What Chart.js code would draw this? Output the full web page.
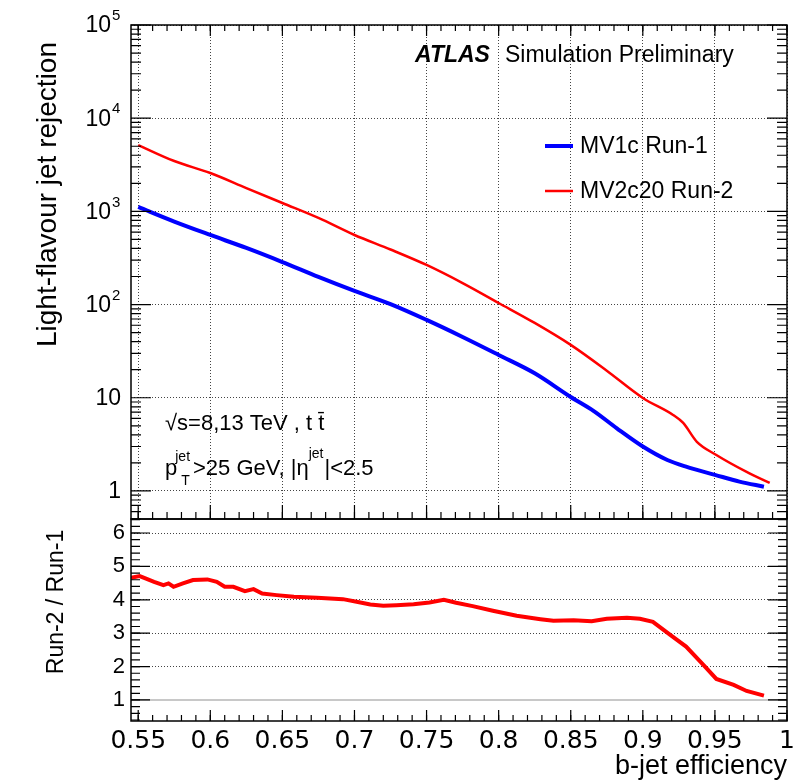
<!DOCTYPE html>
<html>
<head>
<meta charset="utf-8">
<script src="https://cdn.jsdelivr.net/npm/chart.js@4.4.1/dist/chart.umd.min.js"></script>
<style>
  body { margin: 0; background: #fff; }
  #contenedor { position: relative; width: 805px; height: 783px; background: #fff; }
  canvas { position: absolute; left: 0; }
  #graficoSuperior { top: 0; }
  #graficoRatio { top: 516px; }
</style>
</head>
<body>
<div id="contenedor">
  <canvas id="graficoRatio" width="805" height="267"></canvas>
  <canvas id="graficoSuperior" width="805" height="522"></canvas>
</div>
<script>
// Datos (eficiencia b-jet vs rechazo de jets ligeros)
const eficienciaRun1 = [0.55, 0.575, 0.6, 0.625, 0.65, 0.675, 0.7, 0.725, 0.75, 0.775, 0.8, 0.825, 0.85, 0.866, 0.882, 0.9, 0.917, 0.93, 0.95, 0.967, 0.984];
const rechazoRun1 = [1115, 777, 558, 405, 286, 198, 140, 101, 68.4, 44.9, 28.8, 18.3, 10.2, 7.2, 4.7, 3.0, 2.15, 1.82, 1.49, 1.26, 1.11];

const eficienciaRun2 = [0.55, 0.575, 0.6, 0.625, 0.65, 0.675, 0.7, 0.725, 0.75, 0.775, 0.8, 0.825, 0.85, 0.875, 0.9, 0.921, 0.928, 0.9375, 0.951, 0.972, 0.988];
const rechazoRun2 = [5150, 3470, 2580, 1780, 1230, 850, 558, 390, 266, 170, 104, 63.5, 36.9, 19.5, 9.95, 6.54, 5.37, 3.36, 2.43, 1.6, 1.22];

// Cociente Run-2 / Run-1 (panel inferior)
const eficienciaRatio = [0.545, 0.551, 0.555, 0.561, 0.5675, 0.571, 0.5745, 0.581, 0.588, 0.598, 0.6045, 0.61, 0.616, 0.624, 0.63, 0.636, 0.646, 0.658, 0.674, 0.692, 0.7015, 0.711, 0.72, 0.729, 0.741, 0.752, 0.762, 0.7705, 0.782, 0.796, 0.8125, 0.829, 0.838, 0.852, 0.8645, 0.875, 0.889, 0.898, 0.907, 0.919, 0.93, 0.942, 0.951, 0.963, 0.972, 0.984];
const ratioRun2Run1 = [4.66, 4.71, 4.64, 4.54, 4.44, 4.49, 4.39, 4.49, 4.59, 4.61, 4.54, 4.39, 4.39, 4.26, 4.32, 4.19, 4.14, 4.09, 4.06, 4.02, 3.94, 3.86, 3.82, 3.84, 3.87, 3.92, 4.0, 3.91, 3.81, 3.67, 3.52, 3.42, 3.37, 3.39, 3.36, 3.43, 3.46, 3.43, 3.34, 2.95, 2.6, 2.05, 1.63, 1.45, 1.27, 1.13];

const nombresSeries = ['MV1c Run-1', 'MV2c20 Run-2'];
const coloresSeries = ['#0000ff', '#ff0000'];

// Etiquetas del eje logarítmico: base y exponente
const ticksRechazo = [1, 10, 100, 1000, 10000, 100000];
const basesRechazo = ['1', '10', '10', '10', '10', '10'];
const exponentesRechazo = ['', '', '2', '3', '4', '5'];

const FUENTE = "'Liberation Sans', Arial, sans-serif";
Chart.defaults.font.family = FUENTE;
Chart.defaults.color = '#000';

function aPuntos(xs, ys) {
    return xs.map((x, i) => ({ x: x, y: ys[i] }));
}

function esDecada(v) {
    const l = Math.log10(v);
    return Math.abs(l - Math.round(l)) < 1e-6;
}

function esEntero(v) {
    return Math.abs(v - Math.round(v)) < 1e-6;
}

// Ajuste fijo del tamaño del eje, sin relleno automático
function fijarEje(ancho, alto) {
    return s => {
        if (ancho !== null) s.width = ancho;
        if (alto !== null) s.height = alto;
        s.paddingTop = 0;
        s.paddingBottom = 0;
        s.paddingLeft = 0;
        s.paddingRight = 0;
    };
}

// Marcas menores del eje x cada 0.01
const menoresX = [];
for (let i = 0; i <= 45; i++) menoresX.push(0.55 + i * 0.01);

// Marcas interiores al estilo ROOT
function marcas(ctx, area, escala, valores, largo, lado) {
    ctx.beginPath();
    valores.forEach(v => {
        const p = escala.getPixelForValue(v);
        if (lado === 'left' || lado === 'right') {
            if (p < area.top - 0.5 || p > area.bottom + 0.5) return;
            const x0 = lado === 'left' ? area.left : area.right;
            const x1 = lado === 'left' ? area.left + largo : area.right - largo;
            ctx.moveTo(x0, p);
            ctx.lineTo(x1, p);
        } else {
            if (p < area.left - 0.5 || p > area.right + 0.5) return;
            const y0 = lado === 'top' ? area.top : area.bottom;
            const y1 = lado === 'top' ? area.top + largo : area.bottom - largo;
            ctx.moveTo(p, y0);
            ctx.lineTo(p, y1);
        }
    });
    ctx.stroke();
}

// Marco, marcas, textos y leyenda del panel superior
const marcoSuperior = {
    id: 'marcoSuperior',
    afterDraw(chart) {
        const ctx = chart.ctx;
        const a = chart.chartArea;
        const sx = chart.scales.x;
        const sy = chart.scales.y;
        ctx.save();
        ctx.strokeStyle = '#000';
        ctx.lineWidth = 1.5;
        ctx.strokeRect(a.left, a.top, a.right - a.left, a.bottom - a.top);

        ctx.lineWidth = 1.2;
        const valoresY = sy.ticks.map(t => t.value);
        const decadas = valoresY.filter(esDecada);
        const menoresY = valoresY.filter(v => !esDecada(v) && esEntero(v / Math.pow(10, Math.floor(Math.log10(v) + 1e-9))));
        marcas(ctx, a, sy, decadas, 20, 'left');
        marcas(ctx, a, sy, menoresY, 10, 'left');
        marcas(ctx, a, sy, decadas, 20, 'right');
        marcas(ctx, a, sy, menoresY, 10, 'right');
        const mayoresX = sx.ticks.map(t => t.value);
        marcas(ctx, a, sx, mayoresX, 11, 'top');
        marcas(ctx, a, sx, menoresX, 6, 'top');
        marcas(ctx, a, sx, mayoresX, 14, 'bottom');
        marcas(ctx, a, sx, menoresX, 7, 'bottom');

        // Etiquetas del eje y con exponente
        ctx.fillStyle = '#000';
        ctx.textBaseline = 'middle';
        ticksRechazo.forEach((t, i) => {
            const y = sy.getPixelForValue(t);
            if (exponentesRechazo[i]) {
                ctx.textAlign = 'right';
                ctx.font = '23px ' + FUENTE;
                ctx.fillText(basesRechazo[i], a.left - 20, y + 1);
                ctx.textAlign = 'left';
                ctx.font = '15px ' + FUENTE;
                ctx.fillText(exponentesRechazo[i], a.left - 19, y - 9);
            } else {
                ctx.textAlign = 'right';
                ctx.font = '23px ' + FUENTE;
                ctx.fillText(basesRechazo[i], a.left - 10, y + 1);
            }
        });
        ctx.textAlign = 'left';

        // Texto ATLAS
        ctx.textBaseline = 'alphabetic';
        ctx.font = 'italic bold 23px ' + FUENTE;
        ctx.fillText('ATLAS', 415, 62);
        ctx.font = '23px ' + FUENTE;
        ctx.fillText('Simulation Preliminary', 505, 62);

        // Leyenda
        chart.data.datasets.forEach((ds, i) => {
            const y = 146 + i * 45;
            ctx.strokeStyle = ds.borderColor;
            ctx.lineWidth = ds.borderWidth;
            ctx.beginPath();
            ctx.moveTo(545, y);
            ctx.lineTo(573, y);
            ctx.stroke();
            ctx.textBaseline = 'middle';
            ctx.font = '23px ' + FUENTE;
            ctx.fillText(ds.label, 580, y + 1);
        });

        // Condiciones de la simulación
        ctx.textBaseline = 'alphabetic';
        ctx.font = '22px ' + FUENTE;
        ctx.fillText('√s=8,13 TeV , t t̄', 165, 430);
        let x = 165;
        const yb = 475;
        ctx.fillText('p', x, yb);
        x += ctx.measureText('p').width;
        ctx.font = '14px ' + FUENTE;
        ctx.fillText('jet', x - 2, yb - 14);
        ctx.fillText('T', x + 4, yb + 10);
        x += ctx.measureText('jet').width + 1;
        ctx.font = '22px ' + FUENTE;
        ctx.fillText('>25 GeV, |η', x, yb);
        x += ctx.measureText('>25 GeV, |η').width;
        ctx.font = '14px ' + FUENTE;
        ctx.fillText('jet', x, yb - 17);
        x += ctx.measureText('jet').width + 1;
        ctx.font = '22px ' + FUENTE;
        ctx.fillText('|<2.5', x, yb);

        // Título del eje y
        ctx.translate(48, 42);
        ctx.rotate(-Math.PI / 2);
        ctx.textAlign = 'right';
        ctx.textBaseline = 'middle';
        ctx.font = '28px ' + FUENTE;
        ctx.fillText('Light-flavour jet rejection', 0, 0);
        ctx.restore();
    }
};

// Marco, línea de referencia y títulos del panel de cociente
const marcoRatio = {
    id: 'marcoRatio',
    beforeDatasetsDraw(chart) {
        const ctx = chart.ctx;
        const a = chart.chartArea;
        const y1 = chart.scales.y.getPixelForValue(1);
        ctx.save();
        ctx.strokeStyle = '#c8c8c8';
        ctx.lineWidth = 2;
        ctx.beginPath();
        ctx.moveTo(a.left, y1);
        ctx.lineTo(a.right, y1);
        ctx.stroke();
        ctx.restore();
    },
    afterDraw(chart) {
        const ctx = chart.ctx;
        const a = chart.chartArea;
        const sx = chart.scales.x;
        const sy = chart.scales.y;
        ctx.save();
        ctx.strokeStyle = '#000';
        ctx.lineWidth = 1.5;
        ctx.strokeRect(a.left, a.top, a.right - a.left, a.bottom - a.top);

        ctx.lineWidth = 1.2;
        const mayoresY = sy.ticks.map(t => t.value);
        const menoresY = [];
        for (let i = 2; i <= 32; i++) menoresY.push(i * 0.2);
        marcas(ctx, a, sy, mayoresY, 19, 'left');
        marcas(ctx, a, sy, menoresY, 9, 'left');
        marcas(ctx, a, sy, mayoresY, 19, 'right');
        marcas(ctx, a, sy, menoresY, 9, 'right');
        const mayoresX = sx.ticks.map(t => t.value);
        marcas(ctx, a, sx, mayoresX, 11, 'bottom');
        marcas(ctx, a, sx, menoresX, 6, 'bottom');

        // Título del eje x
        ctx.fillStyle = '#000';
        ctx.textAlign = 'right';
        ctx.textBaseline = 'alphabetic';
        ctx.font = '27px ' + FUENTE;
        ctx.fillText('b-jet efficiency', a.right, 258);

        // Título del eje y
        ctx.translate(57, 86);
        ctx.rotate(-Math.PI / 2);
        ctx.textAlign = 'center';
        ctx.textBaseline = 'middle';
        ctx.font = '23px ' + FUENTE;
        ctx.fillText('Run-2 / Run-1', 0, 0);
        ctx.restore();
    }
};

function generarGraficoSuperior() {
    const ctx = document.getElementById('graficoSuperior').getContext('2d');
    new Chart(ctx, {
        type: 'line',
        data: {
            datasets: [
                {
                    label: nombresSeries[0],
                    data: aPuntos(eficienciaRun1, rechazoRun1),
                    borderColor: coloresSeries[0],
                    borderWidth: 4,
                    cubicInterpolationMode: 'monotone',
                    fill: false
                },
                {
                    label: nombresSeries[1],
                    data: aPuntos(eficienciaRun2, rechazoRun2),
                    borderColor: coloresSeries[1],
                    borderWidth: 2.5,
                    cubicInterpolationMode: 'monotone',
                    fill: false
                }
            ]
        },
        options: {
            responsive: false,
            animation: false,
            layout: { padding: { left: 0, right: 18, top: 25, bottom: 3 } },
            elements: { point: { radius: 0 } },
            plugins: { legend: { display: false }, tooltip: { enabled: false } },
            scales: {
                x: {
                    type: 'linear',
                    min: 0.545,
                    max: 1.0,
                    ticks: { display: false, stepSize: 0.05, includeBounds: false },
                    grid: { color: '#444', lineWidth: 1, drawTicks: false },
                    border: { display: false, dash: [1, 2] },
                    afterFit: fijarEje(null, 0)
                },
                y: {
                    type: 'logarithmic',
                    min: 0.5,
                    max: 100000,
                    ticks: { display: false },
                    grid: {
                        drawTicks: false,
                        lineWidth: 1,
                        color: c => (c.tick && esDecada(c.tick.value)) ? '#444' : 'rgba(0,0,0,0)'
                    },
                    border: { display: false, dash: [1, 2] },
                    afterFit: fijarEje(131, null)
                }
            }
        },
        plugins: [marcoSuperior]
    });
}

function generarGraficoRatio() {
    const ctx = document.getElementById('graficoRatio').getContext('2d');
    new Chart(ctx, {
        type: 'line',
        data: {
            datasets: [
                {
                    label: 'Run-2 / Run-1',
                    data: aPuntos(eficienciaRatio, ratioRun2Run1),
                    borderColor: '#ff0000',
                    borderWidth: 4,
                    tension: 0,
                    fill: false
                }
            ]
        },
        options: {
            responsive: false,
            animation: false,
            layout: { padding: { left: 0, right: 18, top: 3, bottom: 0 } },
            elements: { point: { radius: 0 } },
            plugins: { legend: { display: false }, tooltip: { enabled: false } },
            scales: {
                x: {
                    type: 'linear',
                    min: 0.545,
                    max: 1.0,
                    ticks: {
                        stepSize: 0.05,
                        includeBounds: false,
                        autoSkip: false,
                        maxRotation: 0,
                        padding: -3,
                        font: { family: "'DejaVu Sans', sans-serif", size: 25 },
                        callback: v => String(Number(v.toFixed(2)))
                    },
                    grid: { display: false },
                    border: { display: false },
                    afterFit: fijarEje(null, 62)
                },
                y: {
                    min: 0.37,
                    max: 6.42,
                    ticks: { stepSize: 1, includeBounds: false, padding: 6, font: { size: 22 } },
                    grid: {
                        drawTicks: false,
                        lineWidth: 1,
                        color: c => (c.tick && c.tick.value === 1) ? 'rgba(0,0,0,0)' : '#444'
                    },
                    border: { display: false, dash: [1, 2] },
                    afterFit: fijarEje(131, null)
                }
            }
        },
        plugins: [marcoRatio]
    });
}

document.addEventListener('DOMContentLoaded', () => {
    generarGraficoSuperior();
    generarGraficoRatio();
});
</script>
</body>
</html>
